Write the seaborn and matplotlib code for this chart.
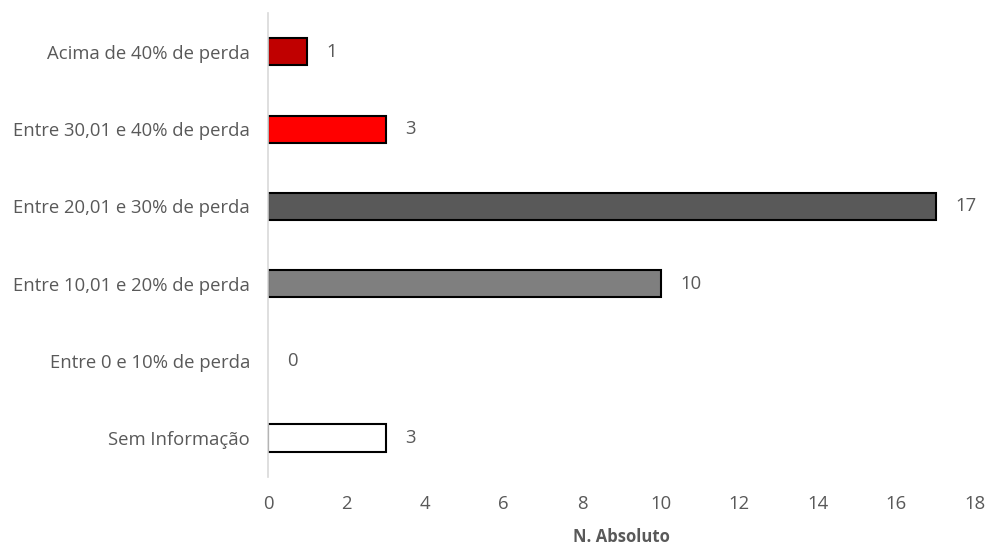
import matplotlib
matplotlib.use("Agg")
import matplotlib.pyplot as plt
import seaborn as sns
import pandas as pd

categories = [
    "Acima de 40% de perda",
    "Entre 30,01 e 40% de perda",
    "Entre 20,01 e 30% de perda",
    "Entre 10,01 e 20% de perda",
    "Entre 0 e 10% de perda",
    "Sem Informação",
]
values = [1, 3, 17, 10, 0, 3]
colors = ["#C00000", "#FF0000", "#595959", "#7F7F7F", "#FFFFFF", "#FFFFFF"]
x_ticks = [0, 2, 4, 6, 8, 10, 12, 14, 16, 18]
x_label = "N. Absoluto"

sns.set_theme(style="white")
plt.rcParams["font.family"] = ["Open Sans", "DejaVu Sans"]
text_color = "#595959"
fs = 13.3

df = pd.DataFrame({"cat": categories, "val": values})

fig = plt.figure(figsize=(9.88, 5.46), dpi=100)
ax = fig.add_axes([0.2713, 0.1271, 0.7155, 0.8484])

sns.barplot(data=df, y="cat", x="val", hue="cat", order=categories,
            hue_order=categories, palette=dict(zip(categories, colors)),
            saturation=1, legend=False, width=0.35, edgecolor="black",
            linewidth=1.5, ax=ax, orient="h")

for p in ax.patches:
    if p.get_width() == 0:
        p.set_linewidth(0)

for cont in ax.containers:
    ax.bar_label(cont, labels=[f"{int(w)}" for w in cont.datavalues],
                 padding=14, fontsize=fs, color=text_color)

ax.set_xlim(0, 18)
ax.set_ylim(5.5, -0.5)
ax.set_xticks(x_ticks)
ax.set_xticklabels([str(t) for t in x_ticks])
ax.tick_params(axis="x", length=0, pad=13, labelsize=fs, labelcolor=text_color)
ax.tick_params(axis="y", length=0, pad=13, labelsize=fs, labelcolor=text_color)
ax.set_ylabel("")
ax.set_xlabel("")
fig.text((268 + 975) / 2 / 988, 1 - 537 / 546, x_label, fontsize=12,
         fontweight="bold", color=text_color, ha="center", va="center")

for s in ["top", "right", "bottom"]:
    ax.spines[s].set_visible(False)
ax.spines["left"].set_color("#D9D9D9")
ax.spines["left"].set_linewidth(1.2)
ax.grid(False)

fig.savefig("out.png", dpi=100)
